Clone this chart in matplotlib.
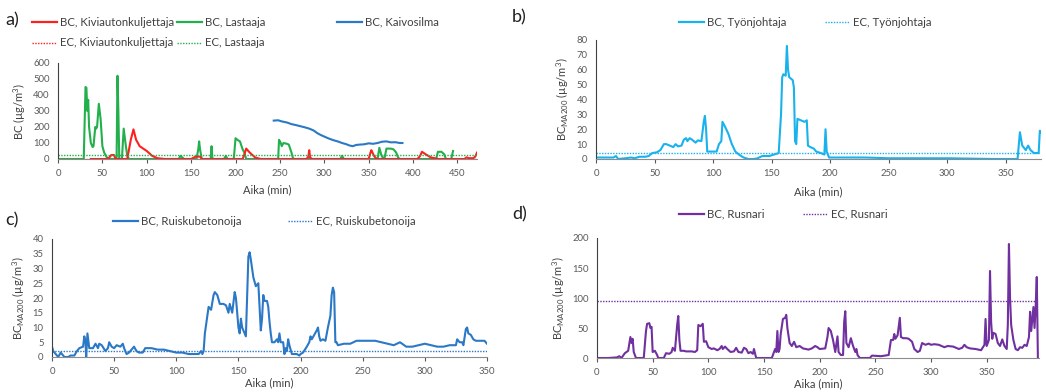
import matplotlib
matplotlib.use("Agg")
import matplotlib.pyplot as plt
from matplotlib.lines import Line2D

plt.rcParams['font.family'] = ['Lato', 'DejaVu Sans']
plt.rcParams['mathtext.default'] = 'regular'

# ---------------- data ----------------
# a) BC, Kiviautonkuljettaja
a_red_t = [37, 55, 58, 60, 63, 65, 78, 82, 85, 88, 92, 100, 106, 112, 120, 150, 155, 160, 162,
           208, 210, 212, 216, 222, 228, 280, 282, 283, 284, 286, 350, 352, 353, 356, 358, 360,
           405, 408, 410, 414, 420, 428, 458, 460, 463, 468, 470, 472]
a_red_v = [0, 0, 10, 25, 25, 0, 0, 120, 185, 120, 80, 50, 20, 5, 0, 0, 15, 15, 0,
           0, 30, 65, 40, 10, 0, 0, 15, 55, 10, 0, 0, 40, 55, 20, 5, 0,
           0, 20, 45, 30, 10, 0, 0, 10, 5, 5, 15, 40]
# a) BC, Lastaaja
a_green_t = [0, 29, 31, 32, 33, 34, 35, 37, 39, 40, 42, 43, 44, 46, 48, 50, 52, 55, 58, 66, 67,
             68, 69, 72, 74, 76, 78, 80, 136, 138, 140, 142, 156, 158, 159, 160, 162, 172, 173,
             174, 187, 189, 191, 198, 200, 202, 205, 208, 210, 212, 248, 249, 251, 252, 254, 258,
             260, 263, 265, 318, 320, 322, 360, 362, 364, 366, 368, 370, 375, 378, 381, 383, 385,
             426, 428, 432, 435, 437, 443, 445]
a_green_v = [0, 0, 450, 445, 300, 370, 200, 100, 75, 80, 200, 190, 200, 345, 250, 80, 40, 10, 0, 0, 520,
             300, 0, 0, 190, 100, 20, 0, 0, 20, 10, 0, 0, 60, 110, 60, 0, 0, 80,
             0, 0, 20, 0, 0, 130, 120, 110, 60, 40, 0, 0, 120, 100, 80, 100, 95,
             90, 40, 0, 0, 20, 0, 0, 70, 30, 5, 10, 65, 65, 60, 40, 10, 0,
             0, 45, 45, 30, 0, 0, 50]
# a) BC, Kaivosilma
a_blue_t = [243, 248, 252, 258, 263, 268, 273, 278, 283, 288, 292, 296, 300, 305, 310, 315, 320, 325,
            328, 332, 336, 340, 345, 350, 355, 360, 365, 370, 375, 380, 385, 388]
a_blue_v = [240, 242, 235, 228, 218, 212, 205, 198, 190, 178, 162, 150, 140, 128, 118, 110, 100, 92,
            85, 80, 88, 90, 92, 98, 95, 100, 108, 110, 104, 105, 100, 100]
a_ec_red = 3
a_ec_green = 25

# b) BC, Työnjohtaja
b_t = [0, 10, 15, 17, 19, 25, 30, 33, 37, 42, 45, 48, 52, 55, 58, 60, 63, 66, 68, 70, 73, 75, 77,
       78, 80, 82, 85, 87, 90, 92, 93, 94, 95, 100, 103, 105, 107, 108, 110, 113, 116, 119, 122,
       126, 130, 135, 138, 142, 148, 152, 156, 158, 159, 160, 162, 163, 164, 165, 168, 169, 170,
       171, 172, 175, 178, 180, 181, 183, 186, 188, 192, 195, 196, 197, 199, 210, 230, 250, 300,
       340, 360, 362, 364, 367, 369, 371, 374, 378, 379, 380]
b_v = [1, 1, 1, 2, 0, 0.5, 1, 0.5, 1.5, 1.5, 2, 4, 4.5, 6, 10, 10, 9, 8, 10, 8.5, 9, 13, 14,
       12, 14, 13, 11, 12.5, 12, 25, 29, 20, 5, 5, 5, 10, 12, 25, 22, 17, 10, 5, 3,
       1, 0, 0, 0.5, 2, 2, 3, 4, 30, 55, 57, 56, 76, 60, 55, 53, 48, 12,
       10, 27, 26, 25, 26, 9, 8, 7, 5, 4, 3, 20, 5, 1, 1, 1, 0.5, 0.5,
       0, 0, 18, 9, 6, 9, 6, 4, 4, 19, 18]
b_ec = 4

# c) BC, Ruiskubetonoija
c_t = [0, 1, 3, 5, 7, 8, 10, 13, 15, 18, 20, 22, 25, 26, 27, 27.5, 28.5, 30, 33, 35, 37, 38, 40,
       43, 45, 46, 48, 50, 52, 55, 57, 58, 60, 62, 65, 66, 68, 70, 73, 75, 80, 85, 90, 100, 105,
       110, 115, 118, 120, 121, 122, 123, 125, 126, 128, 130, 131, 133, 135, 138, 140, 142, 143,
       145, 147, 148, 149, 150, 151, 152, 153, 155, 156, 157, 158, 159, 160, 162, 164, 166, 167,
       168, 169, 170, 171, 173, 174, 175, 176, 177, 179, 181, 182, 183, 184, 186, 187, 188, 189,
       190, 191, 193, 195, 197, 199, 200, 202, 205, 207, 208, 209, 211, 213, 214, 215, 216, 218,
       220, 222, 224, 225, 226, 227, 228, 229, 230, 235, 240, 245, 250, 255, 260, 265, 270, 275,
       280, 285, 290, 295, 300, 305, 310, 315, 320, 325, 326, 328, 330, 331, 333, 334, 335, 337,
       339, 341, 345, 348, 350]
c_v = [3.5, 2, 1, 0, 1.5, 1, 0, 0, 0.5, 0.5, 2, 3, 3.5, 7, 5, 0, 8, 3, 3, 4.5, 3, 4.5, 4,
       2, 3, 5, 3.5, 3, 4, 3.5, 4.5, 3, 1, 1.5, 3, 3.5, 2, 1.5, 1.5, 3, 3, 2.5, 2.5, 1.5, 1.5,
       1, 1, 1, 2, 1, 2, 8, 14, 17, 16, 21, 22, 21, 18, 18, 17.5, 15, 18,
       15, 22, 20, 15, 10, 8, 13, 10, 8, 7, 20, 34, 35.5, 33, 27, 24, 25, 17,
       9, 13, 21, 19, 19, 17, 12, 8, 5, 5, 6, 5, 8, 5, 5, 1, 3, 2,
       6, 4, 1, 1, 1, 0.5, 1, 1.5, 3.5, 5, 7, 6, 7.5, 9, 10, 7, 5.5, 6,
       5.5, 10, 14, 21, 23.5, 22, 5, 5, 4, 4.5, 4.5, 5.5, 5.5, 5.5, 5.5, 5, 4.5, 4,
       5, 3.5, 3.5, 4, 4.5, 4, 3.5, 3.5, 4, 4, 6, 5, 5, 4, 9.5, 10, 8, 7.5,
       6, 5.5, 5.5, 5.5, 4.5]
c_ec = 2

# d) BC, Rusnari
d_t = [0, 10, 18, 20, 22, 25, 28, 30, 31, 32, 33, 35, 42, 44, 45, 47, 48, 49, 50, 52, 54, 55, 60,
       62, 65, 67, 68, 70, 72, 73, 74, 75, 78, 80, 85, 88, 90, 91, 93, 95, 96, 98, 100, 103, 105,
       108, 110, 112, 113, 115, 117, 120, 123, 125, 127, 130, 132, 134, 136, 138, 140, 141, 142,
       143, 150, 157, 159, 160, 161, 162, 163, 164, 165, 167, 169, 170, 171, 173, 175, 177, 179,
       182, 185, 190, 193, 196, 198, 200, 205, 207, 208, 210, 212, 214, 216, 217, 219, 221, 222,
       223, 224, 226, 228, 230, 232, 233, 234, 236, 245, 247, 255, 262, 264, 266, 267, 268, 270,
       272, 273, 275, 278, 280, 283, 285, 288, 290, 292, 295, 298, 300, 303, 307, 312, 315, 320,
       325, 328, 330, 332, 335, 340, 345, 348, 349, 350, 352, 353, 354, 355, 356, 358, 360, 362,
       364, 366, 368, 369, 370, 371, 372, 374, 376, 378, 380, 382, 384, 386, 388, 389, 390, 391,
       392, 393, 394, 395, 396]
d_v = [0, 0, 1, 3, 0, 8, 12, 35, 25, 32, 10, 0, 0, 45, 57, 58, 50, 52, 10, 12, 5, 0, 0,
       8, 7, 10, 17, 12, 55, 70, 30, 12, 12, 11, 11, 10, 13, 55, 53, 57, 27, 28, 18, 15, 16,
       13, 15, 20, 15, 19, 15, 10, 11, 17, 10, 9, 17, 15, 8, 10, 7, 15, 7,
       0, 0, 0, 10, 15, 10, 45, 10, 15, 40, 65, 67, 72, 50, 25, 20, 27, 18,
       20, 16, 14, 16, 20, 18, 15, 16, 35, 50, 45, 30, 10, 36, 10, 5, 5, 60,
       78, 25, 18, 33, 20, 10, 15, 5, 0, 0, 4, 3, 5, 30, 30, 40, 32, 38,
       67, 35, 33, 33, 32, 27, 15, 10, 12, 25, 22, 24, 22, 23, 22, 18, 20, 19,
       15, 17, 22, 18, 16, 15, 13, 22, 65, 20, 30, 145, 60, 32, 42, 40, 25, 20,
       31, 20, 15, 55, 190, 100, 55, 30, 15, 13, 18, 17, 22, 20, 35, 77, 45, 65,
       85, 50, 85, 135, 0]
d_ec = 95

RED = '#ff1f1f'
GREEN = '#22b04c'
BLUE = '#2a78c6'
CYAN = '#1ab2ec'
PURPLE = '#7030a0'

fig = plt.figure(figsize=(10.46, 3.92), dpi=100)
W, H = 1046.0, 392.0


def make_ax(l, r, t, b):
    ax = fig.add_axes([l / W, 1 - b / H, (r - l) / W, (b - t) / H])
    for s in ['top', 'right']:
        ax.spines[s].set_visible(False)
    ax.spines['left'].set_color('#404040')
    ax.spines['bottom'].set_color('#8c8c8c')
    ax.tick_params(labelsize=6.8, colors='#595959', width=0.8)
    ax.tick_params(axis='x', length=3, pad=4)
    ax.tick_params(axis='y', length=0, pad=6)
    ax.xaxis.label.set_color('#404040')
    ax.yaxis.label.set_color('#404040')
    return ax


def legend_entry(x0, y, label, color, ls='-', lw=1.6):
    fig.add_artist(Line2D([x0 / W, (x0 + 25) / W], [1 - y / H, 1 - y / H],
                          transform=fig.transFigure, color=color, ls=ls, lw=lw))
    fig.text((x0 + 28) / W, 1 - y / H, label, fontsize=8.2, color='#404040', va='center')


dot = (0, (1, 1))
LW = 1.5

# a)
ax = make_ax(58, 477, 63, 159)
ax.plot(a_green_t, a_green_v, color=GREEN, lw=LW)
ax.plot(a_red_t, a_red_v, color=RED, lw=LW)
ax.plot(a_blue_t, a_blue_v, color=BLUE, lw=LW)
ax.axhline(a_ec_red, color=RED, ls=dot, lw=1)
ax.axhline(a_ec_green, color=GREEN, ls=dot, lw=1)
ax.set_xlim(0, 472)
ax.set_ylim(0, 600)
ax.set_xticks(range(0, 451, 50))
ax.set_yticks(range(0, 601, 100))
ax.set_xlabel('Aika (min)', fontsize=8, labelpad=5)
ax.set_ylabel('BC (µg/m$^3$)', fontsize=8, labelpad=4)
legend_entry(32, 22, 'BC, Kiviautonkuljettaja', RED)
legend_entry(177, 22, 'BC, Lastaaja', GREEN)
legend_entry(337, 22, 'BC, Kaivosilma', BLUE)
legend_entry(32, 43, 'EC, Kiviautonkuljettaja', RED, ls=dot, lw=1)
legend_entry(177, 43, 'EC, Lastaaja', GREEN, ls=dot, lw=1)
fig.text(5 / W, 1 - 20 / H, 'a)', fontsize=13, color='#202020', va='center')

# b)
ax = make_ax(596, 1041, 40, 159)
ax.plot(b_t, b_v, color=CYAN, lw=LW)
ax.axhline(b_ec, color=CYAN, ls=dot, lw=1)
ax.set_xlim(0, 380)
ax.set_ylim(0, 80)
ax.set_xticks(range(0, 351, 50))
ax.set_yticks(range(0, 81, 10))
ax.set_xlabel('Aika (min)', fontsize=8, labelpad=6)
ax.set_ylabel('BC$_{MA200}$ (µg/m$^3$)', fontsize=8, labelpad=4)
legend_entry(679, 22, 'BC, Työnjohtaja', CYAN)
legend_entry(825, 22, 'EC, Työnjohtaja', CYAN, ls=dot, lw=1)
fig.text(512 / W, 1 - 17 / H, 'b)', fontsize=13, color='#202020', va='center')

# c)
ax = make_ax(52, 487, 239, 357)
ax.plot(c_t, c_v, color=BLUE, lw=LW)
ax.axhline(c_ec, color=BLUE, ls=dot, lw=1)
ax.set_xlim(0, 350)
ax.set_ylim(0, 40)
ax.set_xticks(range(0, 351, 50))
ax.set_yticks(range(0, 41, 5))
ax.set_xlabel('Aika (min)', fontsize=8, labelpad=1)
ax.set_ylabel('BC$_{MA200}$ (µg/m$^3$)', fontsize=8, labelpad=4)
legend_entry(113, 221, 'BC, Ruiskubetonoija', BLUE)
legend_entry(288, 221, 'EC, Ruiskubetonoija', BLUE, ls=dot, lw=1)
fig.text(5 / W, 1 - 220 / H, 'c)', fontsize=13, color='#202020', va='center')

# d)
ax = make_ax(597, 1039, 238, 358)
ax.plot(d_t, d_v, color=PURPLE, lw=LW)
ax.axhline(d_ec, color=PURPLE, ls=dot, lw=1)
ax.set_xlim(0, 397)
ax.set_ylim(0, 200)
ax.set_xticks(range(0, 351, 50))
ax.set_yticks(range(0, 201, 50))
ax.set_xlabel('Aika (min)', fontsize=8, labelpad=1)
ax.set_ylabel('BC$_{MA200}$ (µg/m$^3$)', fontsize=8, labelpad=4)
legend_entry(679, 214, 'BC, Rusnari', PURPLE)
legend_entry(803, 214, 'EC, Rusnari', PURPLE, ls=dot, lw=1)
fig.text(512 / W, 1 - 214 / H, 'd)', fontsize=13, color='#202020', va='center')

fig.savefig('out.png', dpi=100)
